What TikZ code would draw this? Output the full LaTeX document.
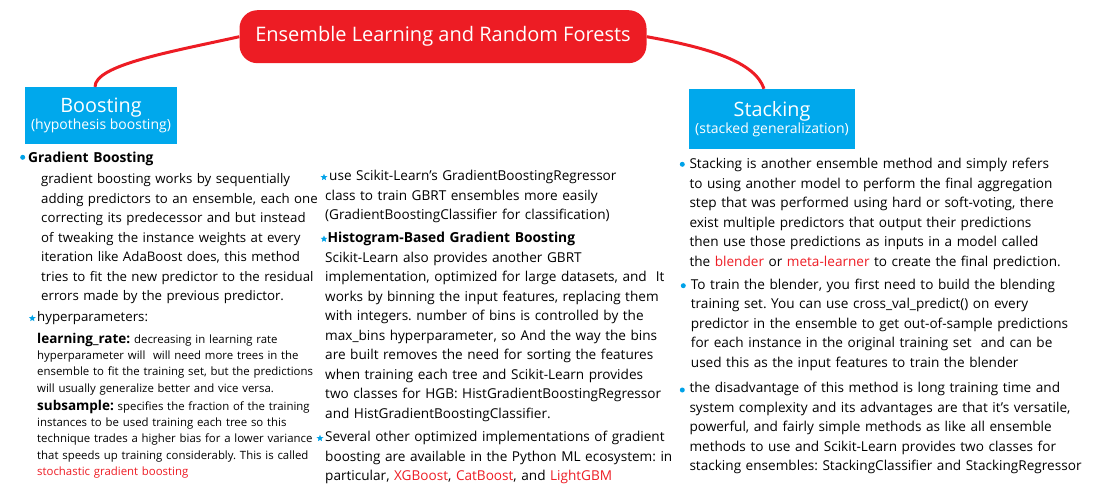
\documentclass[tikz,border=0pt]{standalone}
\usepackage{fontspec}
\setmainfont{Open Sans}
\usetikzlibrary{shapes.geometric}
\definecolor{rootred}{RGB}{237,28,36}
\definecolor{branchcyan}{RGB}{0,168,236}
\definecolor{bulletcyan}{RGB}{0,162,232}
\newcommand{\hl}[1]{\textcolor{rootred}{#1}}
\frenchspacing

\begin{document}
\begin{tikzpicture}[
  x=1pt,y=-1pt,
  rootnode/.style={fill=rootred,text=white,rounded corners=18pt,inner sep=0pt,
    minimum width=407pt,minimum height=53pt,font=\fontsize{20}{24}\selectfont},
  branchnode/.style={fill=branchcyan,text=white,inner sep=0pt,align=center,
    font=\fontsize{19.8}{21}\selectfont},
  link/.style={draw=rootred,line width=3pt},
  bodytext/.style={anchor=base west,inner sep=0pt,text width=430pt,align=left,
    font=\fontsize{13.6}{19.5}\selectfont},
  lefttext/.style={bodytext,font=\fontsize{13.25}{19.5}\selectfont},
  smalltext/.style={bodytext,font=\fontsize{11.4}{16.4}\selectfont},
  headtext/.style={bodytext,font=\fontsize{13.8}{19.5}\selectfont\bfseries},
  dotbullet/.style={circle,fill=bulletcyan,inner sep=0pt,minimum size=5pt},
  starbullet/.style={star,star points=5,star point ratio=2.2,fill=bulletcyan,
    inner sep=0pt,minimum size=7pt},
]
\useasboundingbox (0,0) rectangle (1096,492);

% Root and branches
\node[rootnode] (root) at (443,36.7) {Ensemble Learning and Random Forests};
\node[branchnode,minimum width=152pt,minimum height=57pt] (boost) at (101,115.6)
  {Boosting\\[-4pt]{\fontsize{14}{15}\selectfont(hypothesis boosting)}};
\node[branchnode,minimum width=166pt,minimum height=60pt] (stack) at (772,119)
  {Stacking\\[-4pt]{\fontsize{14}{15}\selectfont(stacked generalization)}};

\draw[link] (root.west) .. controls (170,52) and (95,65) .. ([xshift=-6pt]boost.north);
\draw[link] (root.east) .. controls (710,48) and (755,62) .. ([xshift=-8pt]stack.north);

% Boosting: gradient boosting
\node[dotbullet] (b1) at (22.7,157.3) {};
\node[headtext] (gbhead) at (28,163) {Gradient Boosting};
\node[lefttext] (gbbody) at (41,184) {gradient boosting works by sequentially\\
  adding predictors to an ensemble, each one\\
  correcting its predecessor and but instead\\
  of tweaking the instance weights at every\\
  iteration like AdaBoost does, this method\\
  tries to fit the new predictor to the residual\\
  errors made by the previous predictor.};

% hyperparameters
\node[starbullet] (s1) at (32.3,318.3) {};
\node[lefttext] (hyphead) at (37,321.7) {hyperparameters:};
\node[smalltext] (lrtext) at (37,343) {{\fontsize{13.5}{16}\selectfont\bfseries learning\_rate:}
  decreasing in learning rate\\
  hyperparameter will~ will need more trees in the\\
  ensemble to fit the training set, but the predictions\\
  will usually generalize better and vice versa.};
\node[smalltext] (sstext) at (37,410) {{\fontsize{13.5}{16}\selectfont\bfseries subsample:}
  specifies the fraction of the training\\
  instances to be used training each tree so this\\
  technique trades a higher bias for a lower variance\\
  that speeds up training considerably. This is called\\
  \hl{stochastic gradient boosting}};

% Scikit-Learn classes
\node[starbullet] (s2) at (324,177.3) {};
\node[bodytext] (usetext) at (325,180.7) {\hspace*{4pt}use Scikit-Learn’s GradientBoostingRegressor\\
  class to train GBRT ensembles more easily\\
  (GradientBoostingClassifier for classification)};

% Histogram-based gradient boosting
\node[starbullet] (s3) at (324,239) {};
\node[headtext] (hgbhead) at (327.3,242.7) {Histogram-Based Gradient Boosting};
\node[bodytext] (hgbbody) at (325,262.3) {Scikit-Learn also provides another GBRT\\
  implementation, optimized for large datasets, and~ It\\
  works by binning the input features, replacing them\\
  with integers. number of bins is controlled by the\\
  max\_bins hyperparameter, so And the way the bins\\
  are built removes the need for sorting the features\\
  when training each tree and Scikit-Learn provides\\
  two classes for HGB: HistGradientBoostingRegressor\\
  and HistGradientBoostingClassifier.};

% other implementations
\node[starbullet] (s4) at (320,438.3) {};
\node[bodytext] (othertext) at (325,441.7) {Several other optimized implementations of gradient\\
  boosting are available in the Python ML ecosystem: in\\
  particular, \hl{XGBoost}, \hl{CatBoost}, and \hl{LightGBM}};

% Stacking
\node[dotbullet] (t1) at (682.3,164.3) {};
\node[bodytext] (stk1) at (689.3,169) {Stacking is another ensemble method and simply refers\\
  to using another model to perform the final aggregation\\
  step that was performed using hard or soft-voting, there\\
  exist multiple predictors that output their predictions\\
  then use those predictions as inputs in a model called\\
  the \hl{blender} or \hl{meta-learner} to create the final prediction.};
\node[dotbullet] (t2) at (683.3,285.7) {};
\node[bodytext] (stk2) at (690.7,289.3) {To train the blender, you first need to build the blending\\
  training set. You can use cross\_val\_predict() on every\\
  predictor in the ensemble to get out-of-sample predictions\\
  for each instance in the original training set~ and can be\\
  used this as the input features to train the blender};
\node[dotbullet] (t3) at (682.3,390) {};
\node[bodytext] (stk3) at (689.3,392.7) {the disadvantage of this method is long training time and\\
  system complexity and its advantages are that it's versatile,\\
  powerful, and fairly simple methods as like all ensemble\\
  methods to use and Scikit-Learn provides two classes for\\
  stacking ensembles: StackingClassifier and StackingRegressor};

\end{tikzpicture}
\end{document}
